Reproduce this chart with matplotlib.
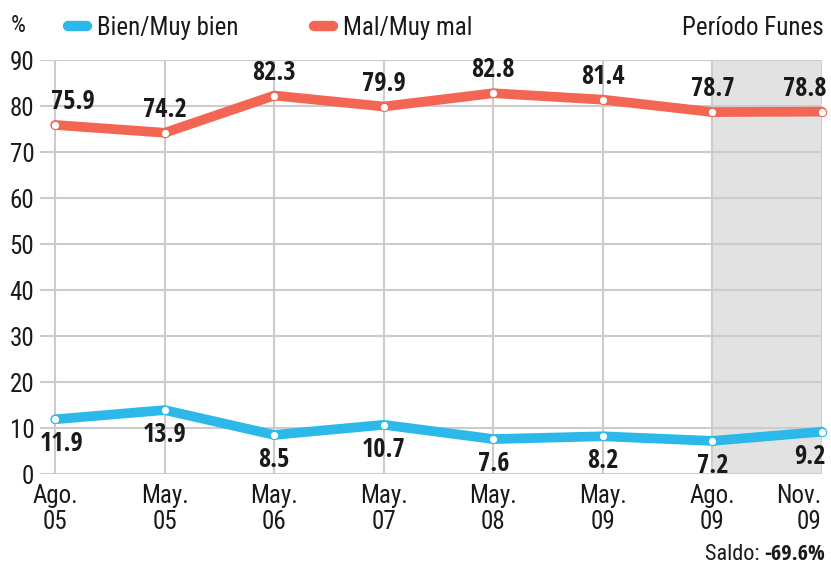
import matplotlib.pyplot as plt
from matplotlib.lines import Line2D

''' Data '''
periods = ['Ago.\n05', 'May.\n05', 'May.\n06', 'May.\n07', 'May.\n08', 'May.\n09', 'Ago.\n09', 'Nov.\n09']
bien = [11.9, 13.9, 8.5, 10.7, 7.6, 8.2, 7.2, 9.2]
mal = [75.9, 74.2, 82.3, 79.9, 82.8, 81.4, 78.7, 78.8]
funes_start = 6   # index where "Período Funes" begins
saldo = '-69.6%'

''' Style '''
BLUE = '#2cb9ea'
RED = '#f36654'
GRID = '#cccccc'
SHADE = '#e2e2e2'
TXT = '#1a1a1a'
PLAIN = ['Roboto Condensed', 'DejaVu Sans']            # ticks, legend, notes
BOLD = ['Open Sans Condensed', 'Roboto Condensed', 'DejaVu Sans']  # value labels
plt.rcParams['font.family'] = PLAIN

fig = plt.figure(figsize=(8.31, 5.67), dpi=100)
ax = fig.add_axes([0.048, 0.164, 0.941, 0.730])

x = list(range(len(periods)))
ax.axvspan(funes_start, len(periods) - 1, color=SHADE, zorder=0)

for vals, col in [(mal, RED), (bien, BLUE)]:
    ax.plot(x, vals, color=col, lw=7, solid_joinstyle='round', solid_capstyle='round',
            marker='o', markersize=6, markerfacecolor='white', markeredgecolor=col,
            markeredgewidth=0.8, zorder=3, clip_on=False)

''' Value labels '''
n = len(x)
for i in x:
    ha = 'left' if i == 0 else ('right' if i == n - 1 else 'center')
    dx = -3 if i == 0 else (3 if i == n - 1 else 0)
    ax.annotate(f'{mal[i]:.1f}', (i, mal[i]), xytext=(dx, 7), textcoords='offset points',
                ha=ha, va='bottom', fontsize=19, family=BOLD, fontweight='bold',
                color=TXT, zorder=4)
    hb = 'right' if i == n - 1 else 'center'
    dxb = 3 if i == n - 1 else (5 if i == 0 else 0)
    ax.annotate(f'{bien[i]:.1f}', (i, bien[i]), xytext=(dxb, -8), textcoords='offset points',
                ha=hb, va='top', fontsize=19, family=BOLD, fontweight='bold',
                color=TXT, zorder=4)

''' Axes '''
ax.set_xlim(-0.14, n - 1)
ax.set_ylim(0, 90)
ax.set_yticks(range(0, 91, 10))
ax.set_xticks(x)
ax.set_xticklabels(periods, linespacing=1.1)
ax.tick_params(axis='both', length=0, labelsize=18, colors=TXT)
ax.tick_params(axis='y', pad=4)
ax.tick_params(axis='x', pad=7)
tl = ax.get_xticklabels()
tl[-1].set_horizontalalignment('right')
tl[-1].set_x(n - 1)
for s in ax.spines.values():
    s.set_visible(False)
ax.grid(True, color=GRID, lw=1.5)
ax.set_axisbelow(True)

''' Legend & notes '''
handles = [Line2D([], [], color=BLUE, lw=7.5, solid_capstyle='round', label='Bien/Muy bien'),
           Line2D([], [], color=RED, lw=7.5, solid_capstyle='round', label='Mal/Muy mal')]
fig.legend(handles=handles, loc='center left', bbox_to_anchor=(0.082, 0.951), ncol=2,
           frameon=False, fontsize=18, handlelength=0.76,
           handletextpad=0.4, columnspacing=3.0, labelcolor=TXT,
           borderpad=0, borderaxespad=0)
fig.text(0.013, 0.955, '%', fontsize=17, color=TXT, va='center')
fig.text(0.991, 0.951, 'Período Funes', fontsize=18, color=TXT, ha='right', va='center')
t = fig.text(0.993, 0.012, saldo, fontsize=16, family=BOLD, fontweight='bold', color=TXT,
             ha='right', va='baseline')
ax.annotate('Saldo: ', xy=(0, 0), xycoords=t, ha='right', va='bottom',
            fontsize=16, color=TXT, annotation_clip=False)

fig.savefig('out.png', dpi=100)
